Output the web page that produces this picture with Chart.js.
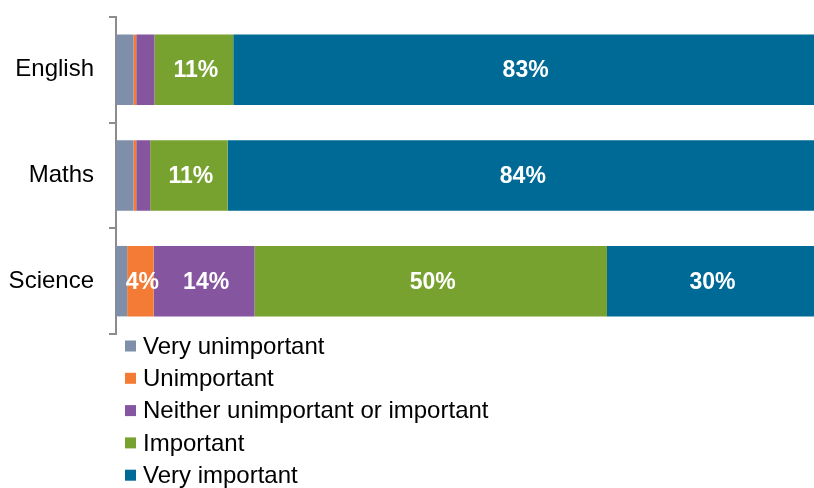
<!DOCTYPE html>
<html>
<head>
<meta charset="utf-8">
<script src="https://cdn.jsdelivr.net/npm/chart.js@4.4.1/dist/chart.umd.min.js"></script>
<style>
  html, body { margin: 0; padding: 0; background: #fff; }
  #wrap { width: 814px; height: 488px; }
</style>
</head>
<body>
<div id="wrap"><canvas id="chart"></canvas></div>
<script>
const subjects = ['English', 'Maths', 'Science'];
const seriesNames = ['Very unimportant', 'Unimportant', 'Neither unimportant or important', 'Important', 'Very important'];
const seriesColors = ['#7F8FA9', '#F47B35', '#8655A0', '#78A22F', '#006A96'];

const veryUnimportant = [2.5, 2.5, 1.6];
const unimportant = [0.4, 0.4, 3.8];
const neither = [2.6, 2.0, 14.45];
const important = [11.3, 11.1, 50.49];
const veryImportant = [83.2, 84.0, 29.66];

const seriesValues = [veryUnimportant, unimportant, neither, important, veryImportant];

const FONT = "'Liberation Sans', Arial, sans-serif";

// white percentage labels in the middle of the bigger segments
const barLabels = {
    id: 'barLabels',
    afterDatasetsDraw(chart) {
        const ctx = chart.ctx;
        ctx.save();
        ctx.font = 'bold 23px ' + FONT;
        ctx.fillStyle = '#ffffff';
        ctx.textAlign = 'center';
        ctx.textBaseline = 'middle';
        chart.data.datasets.forEach((ds, i) => {
            chart.getDatasetMeta(i).data.forEach((bar, j) => {
                const v = ds.data[j];
                if (v < 3) return;
                const x = (bar.x + bar.base) / 2;
                ctx.fillText(Math.round(v) + '%', x + 2, bar.y + 1);
            });
        });
        ctx.restore();
    }
};

// legend: one item per line under the plot
const listLegend = {
    id: 'listLegend',
    afterDraw(chart) {
        const ctx = chart.ctx;
        ctx.save();
        ctx.font = '24px ' + FONT;
        ctx.textBaseline = 'middle';
        ctx.textAlign = 'left';
        chart.data.datasets.forEach((ds, i) => {
            const y = 346 + i * 32.3;
            ctx.fillStyle = ds.backgroundColor;
            ctx.fillRect(125, y - 5.5, 11, 11);
            ctx.fillStyle = '#000000';
            ctx.fillText(ds.label, 143, y + 1);
        });
        ctx.restore();
    }
};

const datasets = seriesNames.map((name, i) => ({
    label: name,
    data: seriesValues[i],
    backgroundColor: seriesColors[i],
    borderWidth: 0,
    categoryPercentage: 1,
    barPercentage: 0.667
}));

new Chart('chart', {
    type: 'bar',
    data: { labels: subjects, datasets: datasets },
    options: {
        indexAxis: 'y',
        maintainAspectRatio: false,
        animation: false,
        layout: { padding: { top: 17, right: 0, bottom: 154, left: 0 } },
        plugins: {
            legend: { display: false },
            tooltip: { enabled: false }
        },
        scales: {
            x: {
                stacked: true,
                min: 0,
                max: 100,
                display: false
            },
            y: {
                stacked: true,
                afterFit(scale) {
                    scale.width = 116;
                    scale.paddingTop = 0;
                    scale.paddingBottom = 0;
                },
                border: { display: true, color: '#8C8C8C', width: 2 },
                grid: {
                    offset: true,
                    drawOnChartArea: false,
                    drawTicks: true,
                    tickLength: 7,
                    color: '#8C8C8C',
                    lineWidth: 2
                },
                ticks: {
                    color: '#000000',
                    padding: 15,
                    font: { family: FONT, size: 24 }
                }
            }
        }
    },
    plugins: [barLabels, listLegend]
});
</script>
</body>
</html>
